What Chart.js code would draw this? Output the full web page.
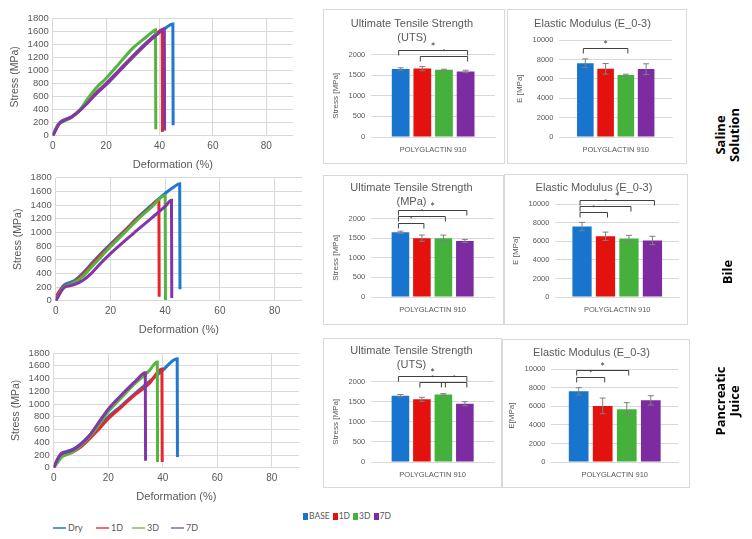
<!DOCTYPE html>
<html>
<head>
<meta charset="utf-8">
<script src="https://cdn.jsdelivr.net/npm/chart.js@4.4.1/dist/chart.umd.min.js"></script>
<style>
body{margin:0;background:#fff;width:752px;height:539px;position:relative;overflow:hidden;font-family:Lato,sans-serif}
canvas{position:absolute}
.box{position:absolute;border:1px solid #d9d9d9;box-sizing:border-box}
.row{position:absolute;transform:translate(-50%,-50%) rotate(-90deg);font-family:"Open Sans",sans-serif;font-weight:bold;font-size:13px;line-height:14px;text-align:center;white-space:nowrap;color:#000}
.lg{position:absolute;font-size:9px;color:#595959;white-space:nowrap;display:flex;align-items:center}
.lg i{display:inline-block}
</style>
</head>
<body>
<canvas id="line1" width="300" height="178" style="left:0px;top:0px"></canvas>
<canvas id="line2" width="302" height="175" style="left:0px;top:168px"></canvas>
<canvas id="line3" width="300" height="173" style="left:0px;top:337px"></canvas>

<div class="box" style="left:323px;top:9px;width:182px;height:155px"></div>
<div class="box" style="left:507px;top:9px;width:180px;height:155px"></div>
<div class="box" style="left:323px;top:175px;width:181px;height:150px"></div>
<div class="box" style="left:504px;top:174px;width:184px;height:151px"></div>
<div class="box" style="left:323px;top:338px;width:179px;height:150px"></div>
<div class="box" style="left:502px;top:339px;width:188px;height:149px"></div>

<canvas id="uts1" width="180" height="153" style="left:324px;top:10px"></canvas>
<canvas id="em1" width="178" height="153" style="left:508px;top:10px"></canvas>
<canvas id="uts2" width="179" height="148" style="left:324px;top:176px"></canvas>
<canvas id="em2" width="182" height="149" style="left:505px;top:175px"></canvas>
<canvas id="uts3" width="177" height="148" style="left:324px;top:339px"></canvas>
<canvas id="em3" width="186" height="147" style="left:503px;top:340px"></canvas>

<div class="row" style="left:727px;top:135px">Saline<br>Solution</div>
<div class="row" style="left:727px;top:272px">Bile</div>
<div class="row" style="left:727px;top:401px">Pancreatic<br>Juice</div>

<div id="lineLegend"></div>
<div id="barLegend" class="lg" style="left:303px;top:511px;gap:3px;font-size:8.5px"></div>

<script>
// line charts: [deformation %, stress MPa]
const lineLabels = ['Dry', '1D', '3D', '7D'];
const lineColors = ['#1f78d1', '#e8252b', '#55b33f', '#8336a8'];
const legendColors = ['#5a9ad8', '#ef6f73', '#9fd07f', '#a98ad0'];
const barLabels = ['BASE', '1D', '3D', '7D'];
const barColors = ['#1874cd', '#e3120f', '#45b03b', '#7c2ca0'];

const salineDry = [[0,0],[1,90],[2,170],[3,215],[5,255],[7,290],[10,390],[13,520],[16,650],[20,800],[25,1010],[30,1220],[35,1420],[38,1530],[40,1590],[42,1640],[45,1710],[45.1,160]];
const saline1D = [[0,0],[1,80],[2,160],[3,205],[5,250],[7,285],[10,385],[13,510],[16,640],[20,790],[25,1000],[30,1210],[35,1410],[38,1520],[41,1620],[41.1,60]];
const saline3D = [[0,0],[1,90],[2,170],[3,200],[5,240],[7,280],[10,390],[13,560],[16,720],[20,880],[25,1110],[30,1340],[35,1510],[38,1610],[38.5,1620],[38.6,100]];
const saline7D = [[0,0],[1,80],[2,160],[3,205],[5,250],[7,285],[10,380],[13,500],[16,630],[20,780],[25,990],[30,1200],[35,1400],[40,1580],[41.8,1640],[41.9,80]];

const bileDry = [[0,0],[1,100],[2,180],[3,230],[5,265],[7,300],[10,410],[13,540],[16,670],[20,830],[25,1020],[30,1220],[35,1400],[40,1570],[43,1660],[45.3,1710],[45.4,170]];
const bile1D = [[0,50],[1,120],[2,170],[3,210],[5,240],[7,280],[10,390],[13,520],[16,650],[20,810],[25,1010],[30,1210],[35,1380],[37.7,1480],[37.8,60]];
const bile3D = [[0,0],[1,80],[2,150],[3,200],[5,235],[7,270],[10,360],[13,490],[16,620],[20,790],[25,990],[30,1190],[35,1370],[40,1540],[40.1,10]];
const bile7D = [[0,0],[1,70],[2,140],[3,190],[5,220],[7,240],[10,300],[13,400],[16,530],[20,690],[25,870],[30,1040],[35,1210],[40,1380],[42.3,1470],[42.4,40]];

const pancDry = [[0,0],[1,100],[2,180],[3,230],[5,260],[7,290],[10,380],[13,500],[16,630],[20,800],[25,980],[30,1170],[35,1350],[40,1530],[45.3,1710],[45.4,170]];
const panc1D = [[0,0],[1,70],[2,140],[3,190],[5,220],[7,250],[10,330],[13,450],[16,580],[20,770],[25,960],[30,1150],[35,1320],[39.7,1550],[39.8,90]];
const panc3D = [[0,0],[1,60],[2,120],[3,170],[5,210],[7,250],[10,350],[13,480],[16,640],[20,880],[25,1110],[30,1330],[35,1520],[38,1660],[38.1,90]];
const panc7D = [[0,0],[1,100],[2,180],[3,230],[5,250],[7,280],[10,370],[13,500],[16,680],[20,920],[25,1150],[30,1360],[33.6,1490],[33.7,110]];

// bar charts
const utsSaline = [1650, 1660, 1630, 1590];
const utsSalineErr = [30, 50, 15, 30];
const utsSalineSig = [[0, 3, 2120], [1, 3, 1975]];
const emSaline = [7630, 7050, 6400, 7020];
const emSalineErr = [450, 550, 100, 550];
const emSalineSig = [[0, 2, 9200]];

const utsBile = [1650, 1500, 1500, 1430];
const utsBileErr = [30, 80, 80, 40];
const utsBileSig = [[0, 3, 2230], [0, 2, 2070], [0, 1, 1900]];
const emBile = [7600, 6550, 6300, 6100];
const emBileErr = [450, 450, 350, 450];
const emBileSig = [[0, 3, 10430], [0, 2, 9780], [0, 1, 9130]];

const utsPanc = [1650, 1560, 1680, 1450];
const utsPancErr = [30, 50, 20, 50];
const utsPancSig = [[0, 3, 2130], [1, 2, 2000], [2, 3, 2000]];
const emPanc = [7620, 6050, 5700, 6650];
const emPancErr = [400, 850, 700, 500];
const emPancSig = [[0, 2, 9890], [0, 1, 9130]];

const grey = '#595959';
const gridGrey = '#d9d9d9';
const plain = v => v;

function lineChart(id, series, pad) {
  new Chart(document.getElementById(id), {
    type: 'line',
    data: {
      datasets: series.map((s, i) => ({
        label: lineLabels[i],
        data: s.map(p => ({x: p[0], y: p[1]})),
        borderColor: lineColors[i],
        borderWidth: 3,
        pointRadius: 0,
        cubicInterpolationMode: 'monotone',
        order: 3 - i
      }))
    },
    options: {
      responsive: false,
      animation: false,
      layout: {padding: pad},
      plugins: {legend: {display: false}, tooltip: {enabled: false}},
      scales: {
        x: {
          type: 'linear', min: 0, max: 90,
          afterBuildTicks: s => { s.ticks = s.ticks.filter(t => t.value % 20 === 0); },
          ticks: {stepSize: 20, color: grey, font: {size: 10}, padding: 4, callback: plain},
          grid: {color: gridGrey, drawTicks: false},
          border: {display: false},
          title: {display: true, text: 'Deformation (%)', color: grey, font: {size: 11}, padding: {top: 3}}
        },
        y: {
          min: 0, max: 1800,
          ticks: {stepSize: 200, autoSkip: false, color: grey, font: {size: 9.5}, padding: 4, callback: plain},
          grid: {color: gridGrey, drawTicks: false},
          border: {display: false},
          title: {display: true, text: 'Stress (MPa)', color: grey, font: {size: 10.5}, padding: 2}
        }
      }
    }
  });
}

const errorBars = {
  id: 'errorBars',
  afterDatasetsDraw(chart) {
    const ctx = chart.ctx, y = chart.scales.y;
    ctx.save();
    ctx.strokeStyle = '#7f7f7f';
    ctx.lineWidth = 1;
    chart.data.datasets.forEach((ds, i) => {
      const bar = chart.getDatasetMeta(i).data[0];
      const v = ds.data[0], e = ds.err;
      const top = y.getPixelForValue(v + e), bot = y.getPixelForValue(v - e);
      ctx.beginPath();
      ctx.moveTo(bar.x, top); ctx.lineTo(bar.x, bot);
      ctx.moveTo(bar.x - 3, top); ctx.lineTo(bar.x + 3, top);
      ctx.moveTo(bar.x - 3, bot); ctx.lineTo(bar.x + 3, bot);
      ctx.stroke();
    });
    const sig = chart.options.plugins.errorBars.sig || [];
    ctx.strokeStyle = '#404040';
    ctx.fillStyle = '#404040';
    ctx.textAlign = 'center';
    ctx.textBaseline = 'bottom';
    sig.forEach((s, k) => {
      const a = chart.getDatasetMeta(s[0]).data[0].x - 2;
      const b = chart.getDatasetMeta(s[1]).data[0].x + 2;
      const yy = Math.round(y.getPixelForValue(s[2])) + 0.5;
      ctx.beginPath();
      ctx.moveTo(a, yy + 5); ctx.lineTo(a, yy); ctx.lineTo(b, yy); ctx.lineTo(b, yy + 5);
      ctx.stroke();
      ctx.font = (k === 0 ? 11 : 7) + 'px Lato';
      ctx.fillText('*', (a + b) / 2, yy + (k === 0 ? 2 : 0));
    });
    ctx.restore();
  }
};

function barChart(id, title, vals, errs, sig, yMax, yStep, yTitle, pad, catPct) {
  new Chart(document.getElementById(id), {
    type: 'bar',
    data: {
      labels: ['POLYGLACTIN 910'],
      datasets: vals.map((v, i) => ({
        label: barLabels[i],
        data: [v],
        err: errs[i],
        backgroundColor: barColors[i],
        categoryPercentage: catPct,
        barPercentage: 0.82
      }))
    },
    options: {
      responsive: false,
      animation: false,
      layout: {padding: pad},
      plugins: {
        legend: {display: false},
        tooltip: {enabled: false},
        title: {display: true, text: title, color: grey, font: {size: 11, weight: 'normal', lineHeight: 1.3}, padding: {top: 0, bottom: 9}},
        errorBars: {sig: sig}
      },
      scales: {
        x: {
          ticks: {color: grey, font: {size: 7.5}, padding: 0},
          grid: {display: false},
          border: {color: gridGrey}
        },
        y: {
          min: 0, max: yMax,
          ticks: {stepSize: yStep, color: grey, font: {size: 7.5}, padding: 6, callback: plain},
          grid: {color: gridGrey, drawTicks: false},
          border: {display: false},
          title: {display: true, text: yTitle, color: grey, font: {size: 8}, padding: 2}
        }
      }
    },
    plugins: [errorBars]
  });
}

lineChart('line1', [salineDry, saline1D, saline3D, saline7D], {top: 18, right: 7, left: 7, bottom: 2});
lineChart('line2', [bileDry, bile1D, bile3D, bile7D], {top: 1, right: 0, left: 10, bottom: 2});
lineChart('line3', [pancDry, panc1D, panc3D, panc7D], {top: 16, right: 1, left: 8, bottom: 2});

const utsTitle = ['Ultimate Tensile Strength', '(UTS)'];
const emTitle = 'Elastic Modulus (E_0-3)';
barChart('uts1', utsTitle, utsSaline, utsSalineErr, utsSalineSig, 2000, 500, 'Stress [MPa]', {left: 5, right: 9, top: 7, bottom: 9}, 0.7);
barChart('em1', emTitle, emSaline, emSalineErr, emSalineSig, 10000, 2000, 'E [MPa]', {left: 5, right: 14, top: 7, bottom: 9}, 0.72);
barChart('uts2', ['Ultimate Tensile Strength', '(MPa)'], utsBile, utsBileErr, utsBileSig, 2000, 500, 'Stress [MPa]', {left: 5, right: 9, top: 5, bottom: 10}, 0.7);
barChart('em2', emTitle, emBile, emBileErr, emBileSig, 10000, 2000, 'E [MPa]', {left: 4, right: 8, top: 6, bottom: 10}, 0.76);
barChart('uts3', utsTitle, utsPanc, utsPancErr, utsPancSig, 2000, 500, 'Stress [MPa]', {left: 5, right: 7, top: 5, bottom: 8}, 0.7);
barChart('em3', emTitle, emPanc, emPancErr, emPancSig, 10000, 2000, 'E[MPa]', {left: 2, right: 11, top: 6, bottom: 8}, 0.76);

// legends
const ll = document.getElementById('lineLegend');
const lineX = [53, 96, 132, 171];
lineLabels.forEach((l, i) => {
  const d = document.createElement('div');
  d.className = 'lg';
  d.style.left = lineX[i] + 'px';
  d.style.top = '522px';
  d.innerHTML = '<i style="width:13px;height:2px;background:' + legendColors[i] + ';margin-right:2px"></i>' + l;
  ll.appendChild(d);
});
const bl = document.getElementById('barLegend');
barLabels.forEach((l, i) => {
  const d = document.createElement('span');
  d.style.display = 'flex';
  d.style.alignItems = 'center';
  d.innerHTML = '<i style="width:5px;height:7px;background:' + barColors[i] + ';margin-right:1px"></i>' + l;
  bl.appendChild(d);
});
</script>
</body>
</html>
